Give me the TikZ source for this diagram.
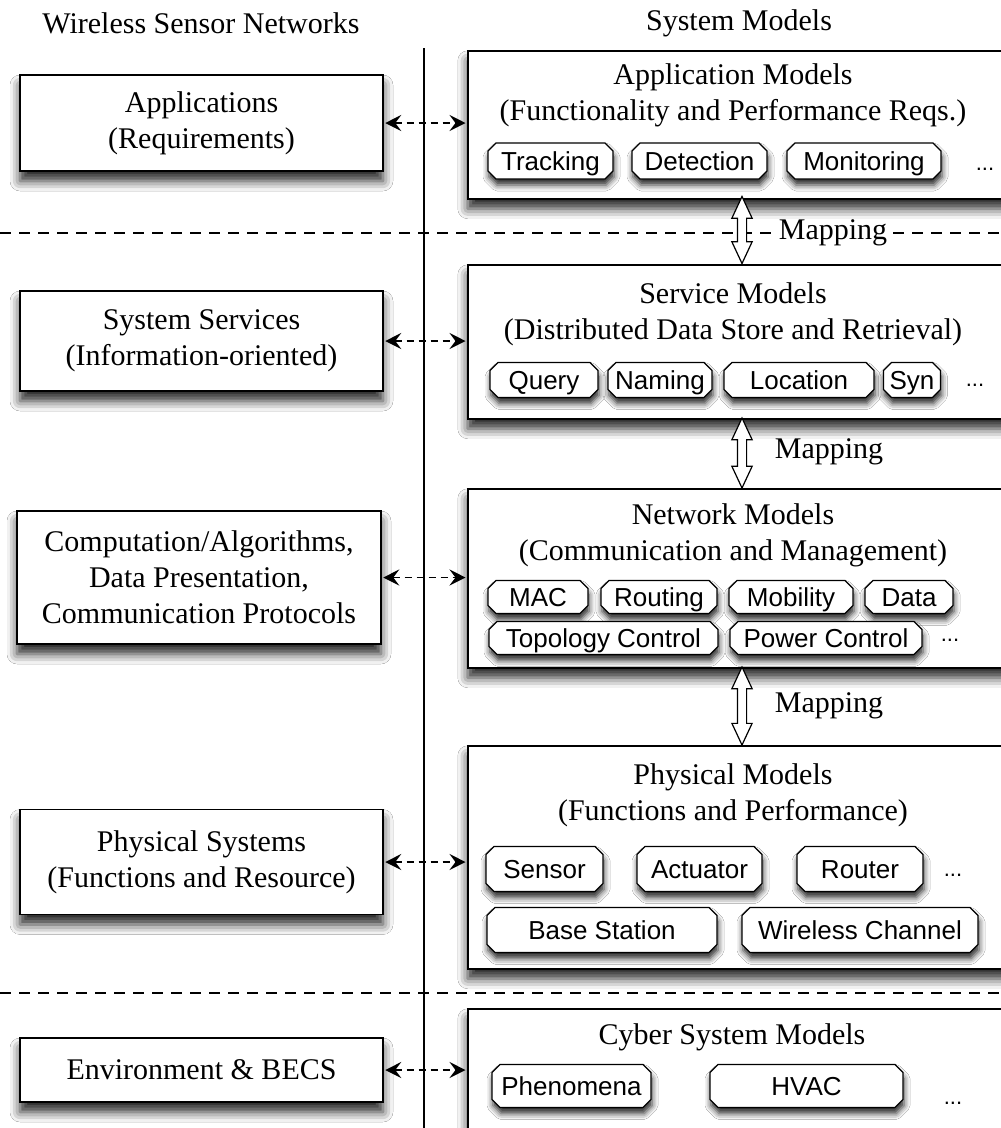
\documentclass[tikz,border=0pt]{standalone}
\usepackage{fontspec}
\setmainfont{Liberation Serif}
\newfontfamily\tagfont{Liberation Sans}
\usetikzlibrary{shapes.misc,shapes.arrows,shadows.blur,arrows.meta}

\begin{document}
\begin{tikzpicture}[x=1pt,y=-1pt,
  serif/.style={font=\fontsize{30}{36}\selectfont, align=center},
  bigshadow/.style={blur shadow={shadow xshift=0pt, shadow yshift=-10pt,
      shadow blur radius=10pt, shadow opacity=85}},
  smallshadow/.style={blur shadow={shadow xshift=1pt, shadow yshift=-6pt,
      shadow blur radius=6pt, shadow opacity=85}},
  sidebox/.style={draw, line width=1.5pt, fill=white, minimum width=363pt,
      inner sep=0pt, serif, bigshadow},
  modelbox/.style={draw, line width=1.5pt, fill=white, anchor=north west,
      minimum width=600pt, inner sep=0pt, bigshadow},
  tag/.style={chamfered rectangle, chamfered rectangle sep=4pt,
      draw, line width=1.3pt, fill=white, inner sep=0pt,
      text height=18.6pt, text depth=0pt,
      font=\tagfont\fontsize{26}{26}\selectfont, smallshadow},
  dots/.style={font=\tagfont\fontsize{22}{22}\selectfont, inner sep=0pt},
  linkarrow/.style={line width=1.4pt, dash pattern=on 7pt off 5pt,
      {Stealth[length=16pt,width=16pt,inset=6pt]}-{Stealth[length=16pt,width=16pt,inset=6pt]},
      shorten <=1.5pt, shorten >=1.5pt},
  maparrow/.style={double arrow, draw, line width=1.2pt, fill=white, rotate=90,
      inner sep=4pt, minimum width=19pt, double arrow head extend=5.5pt,
      double arrow tip angle=50},
  sepline/.style={line width=2pt, dash pattern=on 11pt off 8pt},
  maplabel/.style={serif, fill=white, inner sep=1pt},
]
\useasboundingbox (0,0) rectangle (1001,1128);
\clip (0,0) rectangle (1001,1128);
\fill[white] (0,0) rectangle (1001,1128);

% column headings and divider
\node[serif] (hwsn) at (201,23) {Wireless Sensor Networks};
\node[serif] (hsys) at (739,23) {System Models};
\coordinate (vtop) at (424,48);
\coordinate (vbot) at (424,1128);
\draw[line width=1.2pt] (vtop) -- (vbot);

% left column
\node[sidebox, minimum height=96pt] (appl) at (201.5,123) {Applications\\(Requirements)};
\node[sidebox, minimum height=100pt] (syss) at (201.5,341) {System Services\\(Information-oriented)};
\node[sidebox, minimum height=133pt, minimum width=364pt] (comp) at (199,577.5)
  {Computation/Algorithms,\\Data Presentation,\\Communication Protocols};
\node[sidebox, minimum height=105pt] (phys) at (201.5,862) {Physical Systems\\(Functions and Resource)};
\node[sidebox, minimum height=64pt] (envr) at (201.5,1070) {Environment \& BECS};

% right column: model boxes
\node[modelbox, minimum height=148pt] (appm) at (467,50) {};
\node[modelbox, minimum height=154pt] (serm) at (467,264) {};
\node[modelbox, minimum height=179pt] (netm) at (467,488) {};
\node[modelbox, minimum height=223pt] (phym) at (467,745) {};
\node[modelbox, minimum height=200pt] (cybm) at (467,1008) {};

\node[serif] (appt) at (733,95) {Application Models\\(Functionality and Performance Reqs.)};
\node[serif] (sert) at (733,314.5) {Service Models\\(Distributed Data Store and Retrieval)};
\node[serif] (nett) at (733,535) {Network Models\\(Communication and Management)};
\node[serif] (phyt) at (733,795) {Physical Models\\(Functions and Performance)};
\node[serif] (cybt) at (732,1037) {Cyber System Models};

% application tags
\node[tag, minimum width=125pt, minimum height=36pt] (tr) at (550.5,161) {Tracking};
\node[tag, minimum width=135pt, minimum height=36pt] (de) at (699.5,161) {Detection};
\node[tag, minimum width=154pt, minimum height=36pt] (mo) at (864,161) {Monitoring};
\node[dots] (d1) at (985,169) {...};

% service tags
\node[tag, minimum width=108pt, minimum height=35pt] (qu) at (544,380) {Query};
\node[tag, minimum width=104pt, minimum height=35pt] (na) at (660,380) {Naming};
\node[tag, minimum width=150pt, minimum height=35pt] (lo) at (799,380) {Location};
\node[tag, minimum width=57pt, minimum height=35pt] (sy) at (912,380) {Syn};
\node[dots] (d2) at (975,385) {...};

% network tags
\node[tag, minimum width=100pt, minimum height=33pt] (ma) at (538,597) {MAC};
\node[tag, minimum width=116pt, minimum height=33pt] (ro) at (659,597) {Routing};
\node[tag, minimum width=124pt, minimum height=33pt] (mb) at (791,597) {Mobility};
\node[tag, minimum width=88pt, minimum height=33pt] (da) at (909,597) {Data};
\node[tag, minimum width=229pt, minimum height=33pt] (tc) at (603.5,638) {Topology Control};
\node[tag, minimum width=192pt, minimum height=33pt] (pc) at (826,638) {Power Control};
\node[dots] (d3) at (950,640) {...};

% physical tags
\node[tag, minimum width=117pt, minimum height=45pt] (se) at (544.5,869) {Sensor};
\node[tag, minimum width=125pt, minimum height=45pt] (ac) at (699.5,869) {Actuator};
\node[tag, minimum width=126pt, minimum height=45pt] (rt) at (860,869) {Router};
\node[dots] (d4) at (953,875) {...};
\node[tag, minimum width=230pt, minimum height=45pt] (bs) at (602,930) {Base Station};
\node[tag, minimum width=236pt, minimum height=45pt] (wc) at (860,930) {Wireless Channel};

% cyber tags
\node[tag, minimum width=159pt, minimum height=43pt] (ph) at (571.5,1086) {Phenomena};
\node[tag, minimum width=193pt, minimum height=43pt] (hv) at (806.5,1086) {HVAC};
\node[dots] (d5) at (953,1103) {...};

% correspondences between the two columns
\draw[linkarrow] (appl.east) -- (appl.east -| appm.west);
\draw[linkarrow] (syss.east) -- (syss.east -| serm.west);
\draw[linkarrow] (comp.east) -- (comp.east -| netm.west);
\draw[linkarrow] (phys.east) -- (phys.east -| phym.west);
\draw[linkarrow] (envr.east) -- (envr.east -| cybm.west);

% layer separators
\draw[sepline] (0,233) -- (1001,233);
\draw[sepline] (0,993) -- (1001,993);

% mappings between model layers
\node[maparrow, minimum height=67pt] (m1) at (742,230) {};
\node[maparrow, minimum height=70pt] (m2) at (742,453) {};
\node[maparrow, minimum height=78pt] (m3) at (742,706) {};
\node[maplabel] (l1) at (833,233) {Mapping};
\node[serif] (l2) at (829,452) {Mapping};
\node[serif] (l3) at (829,706) {Mapping};
\end{tikzpicture}
\end{document}
